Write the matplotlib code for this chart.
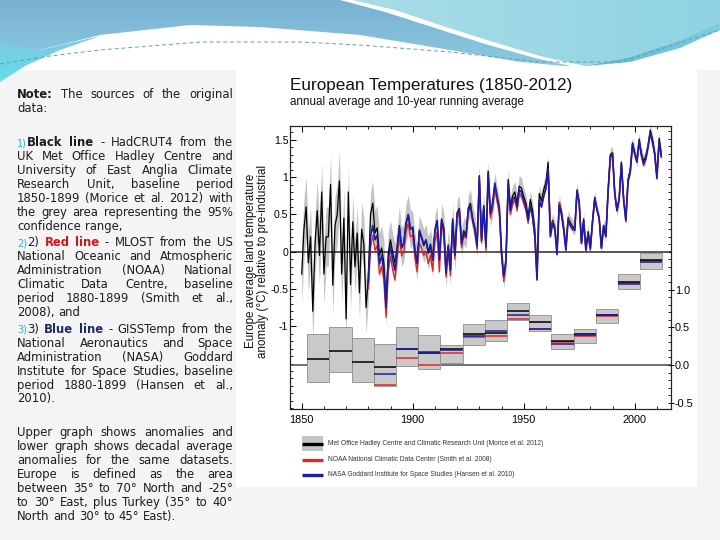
import numpy as np
import matplotlib
matplotlib.use('Agg')
import matplotlib.pyplot as plt
from matplotlib.patches import Rectangle, Polygon
from matplotlib.colors import LinearSegmentedColormap
from matplotlib.ticker import MultipleLocator, FixedLocator, FixedFormatter

plt.rcParams['font.family'] = ['Liberation Sans', 'DejaVu Sans']

# ---------------- data ----------------
had_years = list(range(1850, 2013))
had = [
    -0.30, 0.30, 0.60, -0.15, 0.20, -0.80, 0.10, 0.55, -0.05, 0.80,
    -0.30, 0.20, 0.20, 0.90, -0.45, 0.35, 0.50, 0.95, -0.30, 0.45,
    -0.90, 0.80, -0.44, 0.40, -0.20, 0.25, -0.55, 0.30, 0.10, -0.75,
    -0.35, 0.50, 0.65, 0.25, 0.32, -0.05, 0.05, -0.15, -0.68, -0.02,
    0.16, -0.02, -0.15, 0.05, 0.35, 0.06, 0.12, 0.38, 0.50, 0.30,
    0.32, 0.02, -0.15, 0.27, 0.18, 0.08, 0.15, -0.02, 0.09, -0.12,
    0.28, 0.40, -0.12, 0.44, 0.32, -0.27, 0.09, -0.23, 0.44, -0.04,
    0.52, 0.58, 0.12, 0.28, 0.22, 0.58, 0.65, 0.45, 0.32, 0.10,
    1.02, 0.18, 0.62, 0.05, 1.06, 0.50, 0.62, 0.90, 0.72, 0.58,
    -0.02, -0.35, -0.13, 0.97, 0.60, 0.75, 0.80, 0.65, 0.88, 0.85,
    0.74, 0.65, 0.47, 0.70, 0.55, 0.30, -0.30, 0.78, 0.68, 0.83,
    0.93, 1.20, 0.28, 0.42, 0.34, 0.00, 0.66, 0.54, 0.33, 0.06,
    0.46, 0.39, 0.34, 0.31, 0.83, 0.67, 0.13, 0.44, 0.04, 0.27,
    0.06, 0.42, 0.73, 0.57, 0.45, 0.05, 0.35, 0.20, 0.81, 1.30,
    1.33, 0.79, 0.55, 0.72, 1.20, 0.71, 0.44, 0.97, 1.10, 1.46,
    1.33, 1.22, 1.51, 1.32, 1.21, 1.28, 1.43, 1.63, 1.51, 1.33,
    1.01, 1.52, 1.30,
]
had_ci = [
    0.40, 0.40, 0.40, 0.40, 0.40, 0.40, 0.40, 0.40, 0.40, 0.40,
    0.40, 0.40, 0.40, 0.40, 0.40, 0.40, 0.40, 0.40, 0.40, 0.40,
    0.36, 0.36, 0.36, 0.36, 0.36, 0.36, 0.36, 0.36, 0.36, 0.36,
    0.30, 0.30, 0.30, 0.30, 0.30, 0.30, 0.30, 0.30, 0.30, 0.30,
    0.26, 0.26, 0.26, 0.26, 0.26, 0.26, 0.26, 0.26, 0.26, 0.26,
    0.22, 0.22, 0.22, 0.22, 0.22, 0.22, 0.22, 0.22, 0.22, 0.22,
    0.21, 0.21, 0.21, 0.21, 0.21, 0.21, 0.21, 0.21, 0.21, 0.21,
    0.18, 0.18, 0.18, 0.18, 0.18, 0.18, 0.18, 0.18, 0.18, 0.18,
    0.16, 0.16, 0.16, 0.16, 0.16, 0.16, 0.16, 0.16, 0.16, 0.16,
    0.14, 0.14, 0.14, 0.14, 0.14, 0.14, 0.14, 0.14, 0.14, 0.14,
    0.11, 0.11, 0.11, 0.11, 0.11, 0.11, 0.11, 0.11, 0.11, 0.11,
    0.09, 0.09, 0.09, 0.09, 0.09, 0.09, 0.09, 0.09, 0.09, 0.09,
    0.09, 0.09, 0.09, 0.09, 0.09, 0.09, 0.09, 0.09, 0.09, 0.09,
    0.08, 0.08, 0.08, 0.08, 0.08, 0.08, 0.08, 0.08, 0.08, 0.08,
    0.08, 0.08, 0.08, 0.08, 0.08, 0.08, 0.08, 0.08, 0.08, 0.08,
    0.08, 0.08, 0.08, 0.08, 0.08, 0.08, 0.08, 0.08, 0.08, 0.08,
    0.08, 0.08, 0.08,
]
other_years = list(range(1880, 2013))
noaa = [
    -0.50, 0.05, 0.22, 0.02, 0.08, -0.30, -0.20, -0.38, -0.88, -0.25,
    -0.06, -0.25, -0.38, -0.08, 0.22, -0.06, 0.00, 0.27, 0.38, 0.20,
    0.22, -0.09, -0.27, 0.12, 0.05, -0.05, 0.00, -0.16, -0.05, -0.26,
    0.14, 0.26, -0.27, 0.38, 0.24, -0.34, 0.02, -0.32, 0.38, -0.10,
    0.45, 0.52, 0.05, 0.22, 0.18, 0.52, 0.60, 0.40, 0.28, 0.03,
    0.98, 0.12, 0.58, 0.02, 1.02, 0.45, 0.58, 0.86, 0.68, 0.54,
    -0.05, -0.40, -0.18, 0.88, 0.50, 0.64, 0.70, 0.55, 0.78, 0.74,
    0.64, 0.55, 0.38, 0.62, 0.45, 0.22, -0.36, 0.68, 0.60, 0.76,
    0.84, 1.10, 0.22, 0.40, 0.32, -0.02, 0.66, 0.50, 0.32, 0.04,
    0.44, 0.36, 0.32, 0.28, 0.80, 0.64, 0.12, 0.40, 0.02, 0.24,
    0.02, 0.40, 0.70, 0.56, 0.44, 0.04, 0.34, 0.22, 0.80, 1.25,
    1.32, 0.80, 0.55, 0.72, 1.16, 0.72, 0.40, 0.95, 1.05, 1.42,
    1.32, 1.20, 1.47, 1.30, 1.15, 1.24, 1.42, 1.58, 1.45, 1.32,
    1.00, 1.46, 1.28,
]
giss = [
    -0.42, 0.20, 0.35, 0.16, 0.22, -0.16, -0.05, -0.25, -0.75, -0.11,
    0.07, -0.11, -0.25, 0.04, 0.33, 0.05, 0.11, 0.38, 0.49, 0.30,
    0.33, 0.02, -0.16, 0.29, 0.20, 0.10, 0.16, 0.00, 0.10, -0.10,
    0.29, 0.42, -0.11, 0.42, 0.30, -0.29, 0.07, -0.25, 0.42, -0.05,
    0.51, 0.56, 0.10, 0.25, 0.20, 0.55, 0.62, 0.42, 0.30, 0.07,
    1.00, 0.15, 0.60, 0.07, 1.08, 0.51, 0.65, 0.92, 0.74, 0.60,
    0.00, -0.33, -0.11, 0.92, 0.55, 0.70, 0.74, 0.60, 0.83, 0.80,
    0.69, 0.60, 0.42, 0.62, 0.47, 0.20, -0.38, 0.69, 0.60, 0.74,
    0.85, 1.11, 0.20, 0.38, 0.30, -0.04, 0.62, 0.50, 0.29, 0.02,
    0.42, 0.35, 0.30, 0.29, 0.81, 0.65, 0.11, 0.42, 0.02, 0.25,
    0.04, 0.40, 0.71, 0.56, 0.45, 0.05, 0.35, 0.20, 0.80, 1.27,
    1.31, 0.78, 0.55, 0.70, 1.18, 0.69, 0.42, 0.95, 1.08, 1.44,
    1.31, 1.20, 1.49, 1.29, 1.18, 1.25, 1.40, 1.60, 1.48, 1.30,
    0.98, 1.49, 1.27,
]

dec_start = [1853, 1863, 1873, 1883, 1893, 1903, 1913, 1923,
             1933, 1943, 1953, 1963, 1973, 1983, 1993, 2003]
dec_low = [-0.22, -0.09, -0.22, -0.28, -0.02, -0.06, 0.03, 0.265,
           0.32, 0.59, 0.455, 0.21, 0.287, 0.553, 1.003, 1.273]
dec_high = [0.41, 0.50, 0.354, 0.28, 0.51, 0.40, 0.27, 0.55,
            0.59, 0.82, 0.66, 0.41, 0.477, 0.747, 1.207, 1.49]
dec_had = [0.075, 0.186, 0.035, -0.03, 0.216, 0.155, 0.216, 0.41,
           0.43, 0.71, 0.566, 0.318, 0.41, 0.66, 1.097, 1.39]
dec_noaa = [None, None, None, -0.265, 0.097, 0.005, 0.155, 0.367,
            0.385, 0.61, 0.475, 0.30, 0.385, 0.655, 1.085, 1.38]
dec_giss = [None, None, None, -0.12, 0.21, 0.17, 0.20, 0.385,
            0.45, 0.66, 0.48, 0.28, 0.393, 0.66, 1.074, 1.36]

upper_ticks = [-1, -0.5, 0, 0.5, 1, 1.5]
upper_labels = ['-1', '-0.5', '0', '0.5', '1', '1.5']
lower_ticks = [-0.5, 0.0, 0.5, 1.0]
lower_labels = ['-0.5', '0.0', '0.5', '1.0']
x_ticks = [1850, 1900, 1950, 2000]

title = "European Temperatures (1850-2012)"
subtitle = "annual average and 10-year running average"
ylabel = "Europe average land temperature\nanomaly (\u00b0C) relative to pre-industrial"
legend_labels = [
    "Met Office Hadley Centre and Climatic Research Unit (Morice et al. 2012)",
    "NOAA National Climatic Data Center (Smith et al. 2008)",
    "NASA Goddard Institute for Space Studies (Hansen et al. 2010)",
]

note_lines = [
    (94, "*Note: The sources of the original", True),
    (108, "data:", False),
    (142, "^1)|*Black *line - HadCRUT4 from the", True),
    (156, "UK Met Office Hadley Centre and", True),
    (170, "University of East Anglia Climate", True),
    (184, "Research Unit, baseline period", True),
    (198, "1850-1899 (Morice et al. 2012) with", True),
    (212, "the grey area representing the 95%", True),
    (226, "confidence range,", False),
    (242, "^2)|2) !Red !line - MLOST from the US", True),
    (256, "National Oceanic and Atmospheric", True),
    (270, "Administration (NOAA) National", True),
    (284, "Climatic Data Centre, baseline", True),
    (298, "period 1880-1899 (Smith et al.,", True),
    (312, "2008), and", False),
    (329, "^3)|3) ~Blue ~line - GISSTemp from the", True),
    (343, "National Aeronautics and Space", True),
    (357, "Administration (NASA) Goddard", True),
    (371, "Institute for Space Studies, baseline", True),
    (385, "period 1880-1899 (Hansen et al.,", True),
    (398, "2010).", False),
    (432, "Upper graph shows anomalies and", True),
    (446, "lower graph shows decadal average", True),
    (460, "anomalies for the same datasets.", True),
    (474, "Europe is defined as the area", True),
    (488, "between 35\u00b0 to 70\u00b0 North and -25\u00b0", True),
    (502, "to 30\u00b0 East, plus Turkey (35\u00b0 to 40\u00b0", True),
    (516, "North and 30\u00b0 to 45\u00b0 East).", False),
]

# ---------------- figure ----------------
fig = plt.figure(figsize=(7.2, 5.4), dpi=100)
fig.patch.set_facecolor('#f4f4f4')
bg = fig.add_axes([0, 0, 1, 1])
bg.set_xlim(0, 720)
bg.set_ylim(540, 0)
bg.set_autoscale_on(False)
bg.axis('off')
bg.set_zorder(0)


def grad_poly(pts, c0, c1, z, vertical=False):
    poly = Polygon(pts, closed=True, facecolor='none', edgecolor='none',
                   transform=bg.transData)
    bg.add_patch(poly)
    xs = [p[0] for p in pts]
    ys = [p[1] for p in pts]
    cmap = LinearSegmentedColormap.from_list('g', [c0, c1])
    g = np.linspace(0, 1, 256)
    img = g[:, None] if vertical else g[None, :]
    im = bg.imshow(img, cmap=cmap, origin='upper',
                   extent=(min(xs), max(xs), max(ys), min(ys)),
                   aspect='auto', zorder=z, interpolation='bilinear')
    im.set_clip_path(poly)


# top decoration
bg.add_patch(Rectangle((0, 0), 720, 70, facecolor='white', edgecolor='none', zorder=0.5))
grad_poly([(0, 0), (340, 0), (385, 12), (435, 28), (485, 44), (535, 58), (575, 67),
           (520, 62), (450, 50), (360, 35), (260, 27), (190, 25), (100, 35),
           (40, 50), (0, 63)], '#78b0d2', '#8ccbe0', 1, vertical=True)
grad_poly([(0, 44), (40, 50), (100, 36), (60, 50), (25, 66), (0, 82)],
          '#7cc9e2', '#66dbec', 1.2, vertical=True)
grad_poly([(352, 0), (720, 0), (720, 22), (680, 40), (630, 57), (585, 66),
           (540, 56), (490, 41), (440, 25), (395, 10)], '#a9dde8', '#8fd3e2', 1)
grad_poly([(575, 67), (630, 62), (680, 48), (720, 30), (720, 22), (680, 40),
           (630, 57), (585, 66)], '#5fb7cf', '#7dcde0', 1)
bg.plot([0, 50, 100, 200, 300, 360, 450, 540, 620, 720],
        [64, 56, 50, 42, 42, 45, 52, 62, 62, 30], color='#5c9fb8', lw=0.7,
        ls=(0, (4, 3)), zorder=1.5)

# chart panel
bg.add_patch(Rectangle((236, 66), 461, 421, facecolor='white', edgecolor='none', zorder=1))

# ---------------- justified text ----------------
base_kw = dict(family='DejaVu Sans', size=8.4, color='#1e1e1e', va='baseline', zorder=3)
style_map = {
    '*': dict(weight='bold'),
    '^': dict(color='#33b3cb', size=7),
    '!': dict(weight='bold', color='#d01818'),
    '~': dict(weight='bold', color='#1b2a6b'),
}
renderer = fig.canvas.get_renderer()


def seg_kw(seg):
    kw = dict(base_kw)
    if seg and seg[0] in style_map:
        kw.update(style_map[seg[0]])
        return seg[1:], kw
    return seg, kw


def text_w(s, kw):
    t = bg.text(0, 0, s, **kw)
    w = t.get_window_extent(renderer).width
    t.remove()
    return w


space_w = text_w('a a', base_kw) - text_w('aa', base_kw)
X0, X1 = 17, 233
for y, line, justify in note_lines:
    words = []
    for w in line.split(' '):
        segs = [seg_kw(s) for s in w.split('|')]
        widths = [text_w(s, kw) for s, kw in segs]
        words.append((segs, widths))
    total = sum(sum(ws) for _, ws in words)
    if justify and len(words) > 1:
        gap = max((X1 - X0 - total) / (len(words) - 1), 1.5)
    else:
        gap = space_w
    x = X0
    for segs, widths in words:
        for (s, kw), wd in zip(segs, widths):
            bg.text(x, y + 4, s, **kw)
            x += wd
        x += gap

# ---------------- chart ----------------
ax = fig.add_axes([290 / 720, (540 - 409) / 540, 381 / 720, 283 / 540])
ax.set_zorder(2)
ax.set_facecolor('none')
ax.set_xlim(1844.73, 2016.35)
ax.set_ylim(-2.109, 1.685)

had_a = np.array(had)
ci_a = np.array(had_ci)
ax.fill_between(had_years, had_a - ci_a, had_a + ci_a, color='#c4c4c4', lw=0, zorder=1)
ax.axhline(0, color='#2a2a2a', lw=1.1, zorder=1.5)
ax.plot(had_years, had, color='black', lw=0.9, zorder=2)
ax.plot(other_years, noaa, color='#e3262a', lw=1.0, zorder=3)
ax.plot(other_years, giss, color='#1c1ca8', lw=1.2, zorder=4)

ax2 = ax.twinx()
ax2.set_zorder(3)
ax2.set_ylim(-0.584, 3.17)
ax2.axhline(0, color='#4a4a4a', lw=1.1, zorder=1)
for s, lo, hi, hb, nb, gb in zip(dec_start, dec_low, dec_high, dec_had, dec_noaa, dec_giss):
    x0 = s - 0.5
    ax2.add_patch(Rectangle((x0, lo), 10, hi - lo, facecolor='#c9c9c9',
                            edgecolor='#8e8e8e', lw=0.6, zorder=2))
    if nb is not None:
        ax2.hlines(nb, x0, x0 + 10, color='#e3262a', lw=1.1, zorder=3)
    if gb is not None:
        ax2.hlines(gb, x0, x0 + 10, color='#1c1ca8', lw=1.1, zorder=4)
    ax2.hlines(hb, x0, x0 + 10, color='black', lw=1.1, zorder=3.5)

ax.xaxis.set_major_locator(FixedLocator(x_ticks))
ax.xaxis.set_minor_locator(MultipleLocator(10))
ax.yaxis.set_major_locator(FixedLocator(upper_ticks))
ax.yaxis.set_major_formatter(FixedFormatter(upper_labels))
ax.yaxis.set_minor_locator(MultipleLocator(0.1))
ax2.yaxis.set_major_locator(FixedLocator(lower_ticks))
ax2.yaxis.set_major_formatter(FixedFormatter(lower_labels))
ax2.yaxis.set_minor_locator(MultipleLocator(0.1))

ax.tick_params(axis='x', which='major', direction='in', length=4, width=0.7,
               top=True, labelsize=7.8, pad=4)
ax.tick_params(axis='x', which='minor', direction='in', length=2.5, width=0.6, top=True)
ax.tick_params(axis='y', which='major', direction='in', length=4, width=0.7,
               right=False, labelsize=7.6, pad=1.2)
ax.tick_params(axis='y', which='minor', direction='in', length=2.2, width=0.6, right=False)
ax2.tick_params(axis='y', which='major', direction='inout', length=5, width=0.7,
                labelsize=7.8, pad=0.3)
ax2.tick_params(axis='y', which='minor', direction='in', length=2.2, width=0.6)
for a in (ax, ax2):
    for sp in a.spines.values():
        sp.set_linewidth(0.8)
        sp.set_color('#222222')

# titles, label
bg.text(290, 90, title, fontsize=12.3, color='#111111', va='baseline', ha='left', zorder=3)
bg.text(290, 105, subtitle, fontsize=8.4, color='#111111', va='baseline', ha='left', zorder=3)
bg.text(257, 261, ylabel, fontsize=8.4, rotation=90, ha='center', va='center',
        multialignment='center', linespacing=0.95, color='#111111', zorder=3)

# legend
bg.add_patch(Rectangle((302, 436), 21, 15, facecolor='#c4c4c4', edgecolor='none', zorder=3))
bg.plot([302, 323], [443.5, 443.5], color='black', lw=2.4, zorder=4, solid_capstyle='butt')
bg.plot([302, 323], [459.5, 459.5], color='#e3262a', lw=2.4, zorder=4, solid_capstyle='butt')
bg.plot([302, 323], [474.5, 474.5], color='#1c1ca8', lw=2.4, zorder=4, solid_capstyle='butt')
for yy, lab in zip([443.5, 459.5, 474.5], legend_labels):
    bg.text(328, yy, lab, fontsize=4.8, color='#333333', va='center', ha='left', zorder=4)

fig.savefig('out.png', dpi=100, facecolor=fig.get_facecolor())
